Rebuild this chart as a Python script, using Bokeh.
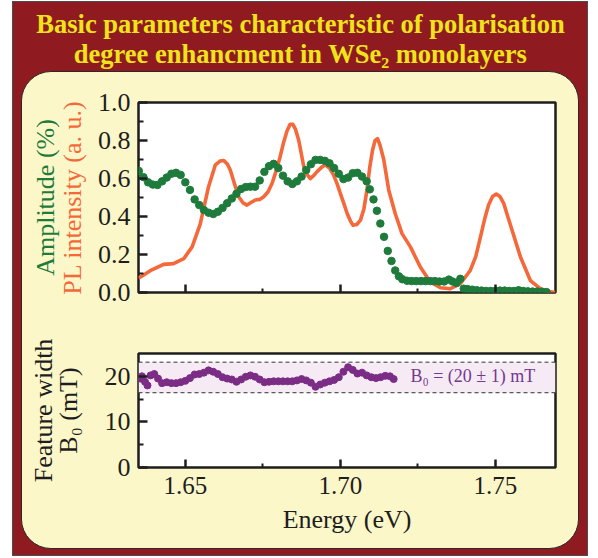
from bokeh.plotting import figure
from bokeh.layouts import column
from bokeh.models import (LinearAxis, FixedTicker, NumeralTickFormatter,
                          CustomJSTickFormatter, Label, BoxAnnotation, Span)
from bokeh.embed import file_html
from bokeh.resources import INLINE

# ---------------- data ----------------
title_line1 = "Basic parameters characteristic of polarisation"
title_line2 = "degree enhancment in WSe\u2082 monolayers"

x_ticks = [1.65, 1.70, 1.75]
x_minor = [1.675, 1.725]
top_y_ticks = [0.0, 0.2, 0.4, 0.6, 0.8, 1.0]
top_y_minor = [0.1, 0.3, 0.5, 0.7, 0.9]
bot_y_ticks = [0, 10, 20]
bot_y_minor = [5, 15]

pl_energy = [1.6349, 1.6387, 1.6430, 1.6462, 1.6495, 1.6522, 1.6548, 1.6575, 1.6597, 1.6612,
             1.6624, 1.6636, 1.6645, 1.6658, 1.6672, 1.6686, 1.6699, 1.6713, 1.6726, 1.6740,
             1.6753, 1.6767, 1.6780, 1.6793, 1.6806, 1.6817, 1.6828, 1.6838, 1.6847, 1.6855,
             1.6866, 1.6882, 1.6893, 1.6903, 1.6914, 1.6925, 1.6940, 1.6952, 1.6965, 1.6978,
             1.6990, 1.7000, 1.7012, 1.7022, 1.7033, 1.7041, 1.7053, 1.7065, 1.7076, 1.7086,
             1.7095, 1.7104, 1.7112, 1.7120, 1.7128, 1.7140, 1.7156, 1.7177, 1.7199, 1.7226,
             1.7258, 1.7290, 1.7323, 1.7355, 1.7387, 1.7419, 1.7437, 1.7452, 1.7466, 1.7478,
             1.7491, 1.7503, 1.7515, 1.7527, 1.7540, 1.7554, 1.7581, 1.7613, 1.7645, 1.7672,
             1.7694]
pl_intensity = [0.075, 0.115, 0.148, 0.152, 0.178, 0.24, 0.36, 0.557, 0.672, 0.692,
                0.695, 0.675, 0.645, 0.575, 0.504, 0.472, 0.46, 0.475, 0.487, 0.49,
                0.504, 0.53, 0.575, 0.64, 0.716, 0.79, 0.85, 0.885, 0.885, 0.86,
                0.80, 0.663, 0.62, 0.60, 0.615, 0.636, 0.66, 0.672, 0.655, 0.619,
                0.57, 0.522, 0.465, 0.416, 0.375, 0.354, 0.358, 0.381, 0.44, 0.54,
                0.66, 0.75, 0.80, 0.81, 0.775, 0.70, 0.54, 0.416, 0.31, 0.24,
                0.134, 0.055, 0.025, 0.02, 0.046, 0.116, 0.19, 0.293, 0.39, 0.46,
                0.505, 0.518, 0.505, 0.469, 0.40, 0.328, 0.187, 0.063, 0.02, 0.005,
                0.0]

amp_energy = [1.6350, 1.6365, 1.6380, 1.6395, 1.6410, 1.6425, 1.6440, 1.6455, 1.6470, 1.6485,
              1.6500, 1.6515, 1.6530, 1.6545, 1.6560, 1.6575, 1.6590, 1.6605, 1.6620, 1.6635,
              1.6650, 1.6665, 1.6680, 1.6695, 1.6710, 1.6725, 1.6740, 1.6755, 1.6770, 1.6785,
              1.6800, 1.6815, 1.6830, 1.6845, 1.6860, 1.6875, 1.6890, 1.6905, 1.6920, 1.6935,
              1.6950, 1.6965, 1.6980, 1.6995, 1.7010, 1.7025, 1.7040, 1.7055, 1.7070, 1.7085,
              1.7095, 1.7107, 1.7118, 1.7129, 1.7141, 1.7153, 1.7165, 1.7177, 1.7189,
              1.7200, 1.7215, 1.7230, 1.7245, 1.7260, 1.7275, 1.7290, 1.7305, 1.7320, 1.7335,
              1.7350, 1.7362, 1.7375, 1.7387, 1.7398, 1.7410, 1.7425, 1.7440, 1.7455, 1.7470,
              1.7485, 1.7500, 1.7515, 1.7530, 1.7545, 1.7560, 1.7575, 1.7590, 1.7605, 1.7620,
              1.7635, 1.7650, 1.7665]
amplitude = [0.64, 0.607, 0.58, 0.568, 0.566, 0.585, 0.605, 0.625, 0.63, 0.619,
             0.58, 0.54, 0.49, 0.46, 0.434, 0.42, 0.413, 0.425, 0.445, 0.47,
             0.495, 0.52, 0.545, 0.555, 0.557, 0.557, 0.59, 0.635, 0.665, 0.677,
             0.655, 0.615, 0.585, 0.571, 0.585, 0.61, 0.645, 0.675, 0.698, 0.698,
             0.693, 0.68, 0.655, 0.625, 0.597, 0.605, 0.628, 0.63, 0.61, 0.585,
             0.543, 0.49, 0.43, 0.363, 0.293, 0.219, 0.166, 0.116, 0.085,
             0.07, 0.062, 0.06, 0.06, 0.06, 0.06, 0.06, 0.06, 0.058, 0.058,
             0.068, 0.058, 0.05, 0.072, 0.02, 0.018, 0.015, 0.012, 0.01, 0.008,
             0.008, 0.008, 0.01, 0.01, 0.008, 0.008, 0.012, 0.008, 0.006, 0.005,
             0.005, 0.004, 0.002]

width_energy = [1.6355, 1.6360, 1.6370, 1.6378, 1.6388, 1.6400, 1.6412, 1.6425, 1.6440, 1.6455,
                1.6470, 1.6485, 1.6500, 1.6515, 1.6530, 1.6545, 1.6560, 1.6575, 1.6590, 1.6605,
                1.6620, 1.6635, 1.6650, 1.6665, 1.6680, 1.6695, 1.6710, 1.6725, 1.6740, 1.6755,
                1.6770, 1.6785, 1.6800, 1.6815, 1.6830, 1.6845, 1.6860, 1.6875, 1.6890, 1.6905,
                1.6920, 1.6935, 1.6950, 1.6965, 1.6980, 1.6995, 1.7010, 1.7025, 1.7040, 1.7055,
                1.7070, 1.7085, 1.7100, 1.7115, 1.7130, 1.7145, 1.7160, 1.7172]
feature_width = [19.5, 20.0, 18.8, 18.0, 20.2, 20.5, 19.5, 18.5, 18.7, 18.5,
                 18.5, 18.7, 19.0, 19.6, 20.4, 20.5, 20.8, 21.3, 21.0, 20.5,
                 19.8, 19.5, 19.3, 18.8, 19.3, 19.9, 20.2, 19.9, 19.3, 18.7,
                 18.8, 18.9, 18.9, 18.9, 18.9, 18.9, 19.1, 19.4, 19.1, 18.6,
                 17.7, 18.2, 18.6, 18.9, 19.2, 19.8, 21.0, 22.0, 21.4, 20.6,
                 20.8, 20.2, 19.8, 19.6, 19.8, 20.1, 20.0, 19.4]

band_low, band_high = 16.4, 23.1
b0_text = "B\u2080 = (20 \u00b1 1) mT"

# ---------------- styles ----------------
RED = "#8f1b21"
YELLOW = "#efe41c"
CREAM = "#fbf7c8"
ORANGE = "#f4683a"
GREEN = "#1e7b3c"
PURPLE = "#7b2d86"
PURPLE_TXT = "#74388f"
BAND = "#f6ebf4"
INK = "#1e1e1e"
FONT = "Liberation Serif"

X_RANGE = (1.6349, 1.7694)


def style_axes(p):
    for ax in p.axis:
        ax.axis_line_color = None
        ax.major_tick_out = 0
        ax.minor_tick_out = 0
        ax.major_tick_line_width = 2.5
        ax.minor_tick_line_width = 2
        ax.major_tick_line_color = INK
        ax.minor_tick_line_color = INK
        ax.major_label_text_font = FONT
        ax.major_label_text_font_size = "25px"
        ax.major_label_text_color = INK
        ax.axis_label_text_font = FONT
        ax.axis_label_text_font_size = "26px"
        ax.axis_label_text_font_style = "normal"
        ax.axis_label_text_color = INK
    p.grid.visible = False
    p.outline_line_color = INK
    p.outline_line_width = 2.5
    p.background_fill_color = "white"
    p.border_fill_alpha = 0


# ---------------- title ----------------
tfig = figure(width=574, height=69, x_range=(0, 1), y_range=(0, 1),
              toolbar_location=None, output_backend="svg", min_border=0)
tfig.axis.visible = False
tfig.grid.visible = False
tfig.outline_line_color = None
tfig.background_fill_alpha = 0
tfig.border_fill_alpha = 0
for txt, yy in ((title_line1, 0.69), (title_line2, 0.255)):
    tfig.add_layout(Label(x=0.5, y=yy, text=txt, text_align="center",
                          text_baseline="alphabetic", text_font=FONT,
                          text_font_style="bold", text_font_size="26.5px",
                          text_color=YELLOW))

# ---------------- top plot ----------------
p1 = figure(frame_width=417, frame_height=190, x_range=X_RANGE, y_range=(0, 1.0),
            toolbar_location=None, output_backend="svg",
            min_border_left=116, min_border_right=23, min_border_top=30, min_border_bottom=30)
p1.line(pl_energy, pl_intensity, line_color=ORANGE, line_width=3.6, line_join="round")
p1.scatter(amp_energy, amplitude, size=7.5, fill_color=GREEN, line_color=GREEN)

p1.xaxis.ticker = FixedTicker(ticks=x_ticks, minor_ticks=x_minor)
p1.xaxis.formatter = CustomJSTickFormatter(code="return ''")
p1.yaxis.ticker = FixedTicker(ticks=top_y_ticks, minor_ticks=top_y_minor)
p1.yaxis.formatter = NumeralTickFormatter(format="0.0")
amp_axis = LinearAxis(ticker=FixedTicker(ticks=[]), axis_label="Amplitude (%)")
p1.add_layout(amp_axis, "left")
style_axes(p1)
p1.xaxis.major_tick_in = 8
p1.xaxis.minor_tick_in = 4
p1.yaxis[0].major_tick_in = 9
p1.yaxis[0].minor_tick_in = 5
p1.yaxis[0].major_label_standoff = 8
p1.yaxis[0].major_label_text_font_size = "26px"
p1.yaxis[0].axis_label = "PL intensity (a. u.)"
p1.yaxis[0].axis_label_text_color = ORANGE
p1.yaxis[0].axis_label_standoff = 8
amp_axis.major_tick_in = 0
amp_axis.minor_tick_in = 0
amp_axis.axis_label_standoff = -5
amp_axis.axis_label_text_color = GREEN

# ---------------- bottom plot ----------------
p2 = figure(frame_width=417, frame_height=114, x_range=X_RANGE, y_range=(0, 25),
            toolbar_location=None, output_backend="svg",
            min_border_left=116, min_border_right=23, min_border_top=31, min_border_bottom=81)
p2.add_layout(BoxAnnotation(bottom=band_low, top=band_high, fill_color=BAND,
                            fill_alpha=1, line_color=None, level="underlay"))
for loc in (band_low, band_high):
    p2.add_layout(Span(location=loc, dimension="width", line_color="#333333",
                       line_width=1, line_dash="4 3"))
p2.scatter(width_energy, feature_width, size=7, fill_color=PURPLE, line_color=PURPLE)
p2.add_layout(Label(x=1.7226, y=20, text=b0_text, text_baseline="middle",
                    text_font=FONT, text_font_size="18px", text_color=PURPLE_TXT))

p2.xaxis.ticker = FixedTicker(ticks=x_ticks, minor_ticks=x_minor)
p2.xaxis.formatter = NumeralTickFormatter(format="0.00")
p2.xaxis.axis_label = "Energy (eV)"
p2.yaxis.ticker = FixedTicker(ticks=bot_y_ticks, minor_ticks=bot_y_minor)
fw_axis = LinearAxis(ticker=FixedTicker(ticks=[]), axis_label="Feature width")
p2.add_layout(fw_axis, "left")
style_axes(p2)
p2.xaxis.major_tick_in = 8
p2.xaxis.minor_tick_in = 4
p2.xaxis.major_label_standoff = 9
p2.xaxis.axis_label_standoff = 8
p2.yaxis[0].major_tick_in = 9
p2.yaxis[0].minor_tick_in = 5
p2.yaxis[0].major_label_standoff = 8
p2.yaxis[0].major_label_text_font_size = "26px"
p2.yaxis[0].axis_label = "B\u2080 (mT)"
p2.yaxis[0].axis_label_standoff = 19
fw_axis.major_tick_in = 0
fw_axis.minor_tick_in = 0
fw_axis.axis_label_standoff = -7

# ---------------- frame / layout ----------------
inner = column(p1, p2, spacing=0, margin=(0, 7, 6, 8),
               styles={"background-color": CREAM, "border": "1.5px solid #2a2a2a",
                       "border-radius": "30px"})
outer = column(tfig, inner, spacing=0, margin=(1, 0, 0, 12),
               styles={"background-color": RED, "border": "1px solid #4d4d4d"})

open("out.html", "w").write(file_html(outer, INLINE))
